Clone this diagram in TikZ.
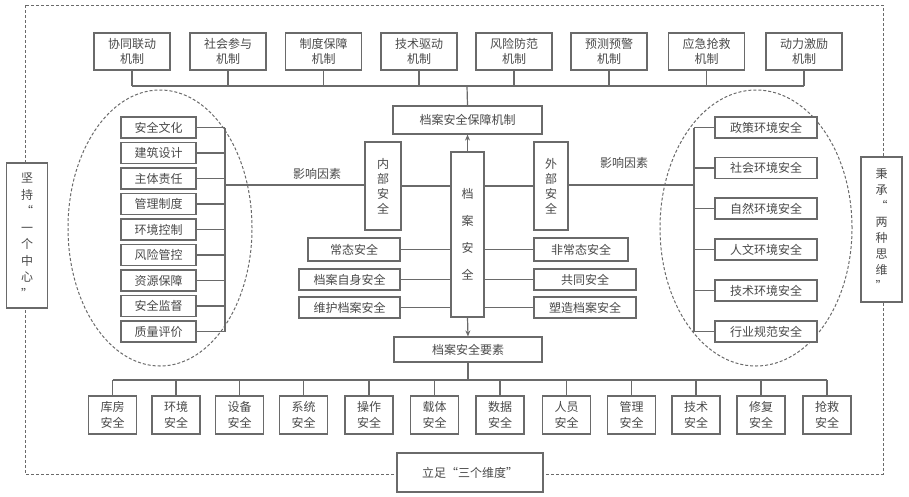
\documentclass[tikz,border=0pt]{standalone}
\usepackage{fontspec}
\setmainfont{Noto Sans CJK SC}
\usetikzlibrary{arrows.meta}
\definecolor{ln}{HTML}{6A6A6A}
\definecolor{tx}{HTML}{4A4A4A}
\tikzset{
  box/.style={draw=ln, line width=1.2pt, fill=white, inner sep=0pt, align=center, text=tx, font=\fontsize{12}{15.5}\selectfont},
  mech/.style={box, minimum width=76pt, minimum height=37pt},
  litem/.style={box, minimum width=75pt, minimum height=21pt},
  ritem/.style={box, minimum width=102pt, minimum height=21pt},
  bitem/.style={box, minimum width=48pt, minimum height=38pt},
  conn/.style={draw=ln, line width=1.2pt},
  dashedline/.style={draw=ln, line width=1pt, dash pattern=on 3pt off 2pt},
  lbl/.style={inner sep=0pt, text=tx, font=\fontsize{12}{14}\selectfont},
  arr/.style={conn, -{Stealth[length=6pt,width=5pt]}}
}
\begin{document}
\begin{tikzpicture}[x=1pt,y=-1pt]
\useasboundingbox (0,0) rectangle (909,496);
% outer dashed frame
\draw[dashedline] (25,5) rectangle (883,474);
% ellipses
\draw[dashedline] (160,228) ellipse [x radius=92pt, y radius=138pt];
\draw[dashedline] (756,228) ellipse [x radius=96pt, y radius=138pt];

% frame labels
\node[box, minimum width=41pt, minimum height=145pt, font=\fontsize{12}{16.5}\selectfont] (zx) at (27,235.5) {坚\\持\\“\\一\\个\\中\\心\\”};
\node[box, minimum width=41pt, minimum height=145pt, font=\fontsize{12}{16}\selectfont] (sw) at (881.5,229.5) {秉\\承\\“\\两\\种\\思\\维\\”};
\node[box, minimum width=146pt, minimum height=39pt] (wd) at (470,472.5) {立足“三个维度”};

% top mechanisms
\node[mech] (m1) at (132,51.5) {协同联动\\机制};
\node[mech] (m2) at (228,51.5) {社会参与\\机制};
\node[mech] (m3) at (323.5,51.5) {制度保障\\机制};
\node[mech] (m4) at (419,51.5) {技术驱动\\机制};
\node[mech] (m5) at (514,51.5) {风险防范\\机制};
\node[mech] (m6) at (609,51.5) {预测预警\\机制};
\node[mech] (m7) at (706.5,51.5) {应急抢救\\机制};
\node[mech] (m8) at (804,51.5) {动力激励\\机制};
\coordinate (tb) at (467,86);
\draw[conn] (m1.south |- tb) -- (m8.south |- tb);
\foreach \i in {1,...,8} { \draw[conn] (m\i.south) -- (m\i.south |- tb); }

% central column
\node[box, minimum width=149pt, minimum height=28pt] (bz) at (467.5,120) {档案安全保障机制};
\draw[conn] (tb) -- (bz.north);
\node[box, minimum width=33pt, minimum height=165pt, font=\fontsize{12}{27}\selectfont] (da) at (467.5,234.5) {档\\案\\安\\全};
\node[box, minimum width=148pt, minimum height=25pt] (ys) at (468,349.5) {档案安全要素};
\draw[arr] (da.north) -- (bz.south);
\draw[arr] (da.south) -- (ys.north);

\node[box, minimum width=36pt, minimum height=88pt, font=\fontsize{12}{15}\selectfont] (nb) at (383,186) {内\\部\\安\\全};
\node[box, minimum width=34pt, minimum height=88pt, font=\fontsize{12}{15}\selectfont] (wb) at (551,186) {外\\部\\安\\全};
\draw[conn] (nb.east) -- (nb.east -| da.west);
\draw[conn] (wb.west) -- (wb.west -| da.east);

\node[box, minimum width=92pt, minimum height=23pt] (c1) at (354,249.5) {常态安全};
\node[box, minimum width=101pt, minimum height=21pt] (c2) at (349.5,279.5) {档案自身安全};
\node[box, minimum width=101pt, minimum height=21pt] (c3) at (349.5,307.5) {维护档案安全};
\node[box, minimum width=94pt, minimum height=23pt] (f1) at (581,249.5) {非常态安全};
\node[box, minimum width=102pt, minimum height=21pt] (f2) at (585,279.5) {共同安全};
\node[box, minimum width=102pt, minimum height=21pt] (f3) at (585,307.5) {塑造档案安全};
\foreach \n in {c1,c2,c3} { \draw[conn] (\n.east) -- (\n.east -| da.west); }
\foreach \n in {f1,f2,f3} { \draw[conn] (\n.west) -- (\n.west -| da.east); }

% left factors
\node[litem] (l1) at (158.5,127.5) {安全文化};
\node[litem] (l2) at (158.5,153) {建筑设计};
\node[litem] (l3) at (158.5,178.5) {主体责任};
\node[litem] (l4) at (158.5,204) {管理制度};
\node[litem] (l5) at (158.5,229.5) {环境控制};
\node[litem] (l6) at (158.5,255) {风险管控};
\node[litem] (l7) at (158.5,280.5) {资源保障};
\node[litem] (l8) at (158.5,306) {安全监督};
\node[litem] (l9) at (158.5,331.5) {质量评价};
\coordinate (lb) at (225,185);
\draw[conn] (l1.east -| lb) -- (l9.east -| lb);
\foreach \i in {1,...,9} { \draw[conn] (l\i.east) -- (l\i.east -| lb); }
\draw[conn] (lb) -- (lb -| nb.west);
\node[lbl] (lf) at (317,174) {影响因素};

% right factors
\node[ritem] (r1) at (766,127.5) {政策环境安全};
\node[ritem] (r2) at (766,168) {社会环境安全};
\node[ritem] (r3) at (766,208.5) {自然环境安全};
\node[ritem] (r4) at (766,249.5) {人文环境安全};
\node[ritem] (r5) at (766,290.5) {技术环境安全};
\node[ritem] (r6) at (766,331.5) {行业规范安全};
\coordinate (rb) at (694,185);
\draw[conn] (r1.west -| rb) -- (r6.west -| rb);
\foreach \i in {1,...,6} { \draw[conn] (r\i.west) -- (r\i.west -| rb); }
\draw[conn] (wb.east |- rb) -- (rb);
\node[lbl] (rf) at (624,163) {影响因素};

% bottom elements
\coordinate (bb) at (468,380);
\draw[conn] (ys.south) -- (bb);
\node[bitem] (b1) at (112.5,415) {库房\\安全};
\node[bitem] (b2) at (176,415) {环境\\安全};
\node[bitem] (b3) at (239.5,415) {设备\\安全};
\node[bitem] (b4) at (303.5,415) {系统\\安全};
\node[bitem] (b5) at (369,415) {操作\\安全};
\node[bitem] (b6) at (434.5,415) {载体\\安全};
\node[bitem] (b7) at (500,415) {数据\\安全};
\node[bitem] (b8) at (566.5,415) {人员\\安全};
\node[bitem] (b9) at (631.5,415) {管理\\安全};
\node[bitem] (b10) at (696,415) {技术\\安全};
\node[bitem] (b11) at (761,415) {修复\\安全};
\node[bitem] (b12) at (827,415) {抢救\\安全};
\draw[conn] (b1.north |- bb) -- (b12.north |- bb);
\foreach \i in {1,...,12} { \draw[conn] (b\i.north |- bb) -- (b\i.north); }
\end{tikzpicture}
\end{document}
